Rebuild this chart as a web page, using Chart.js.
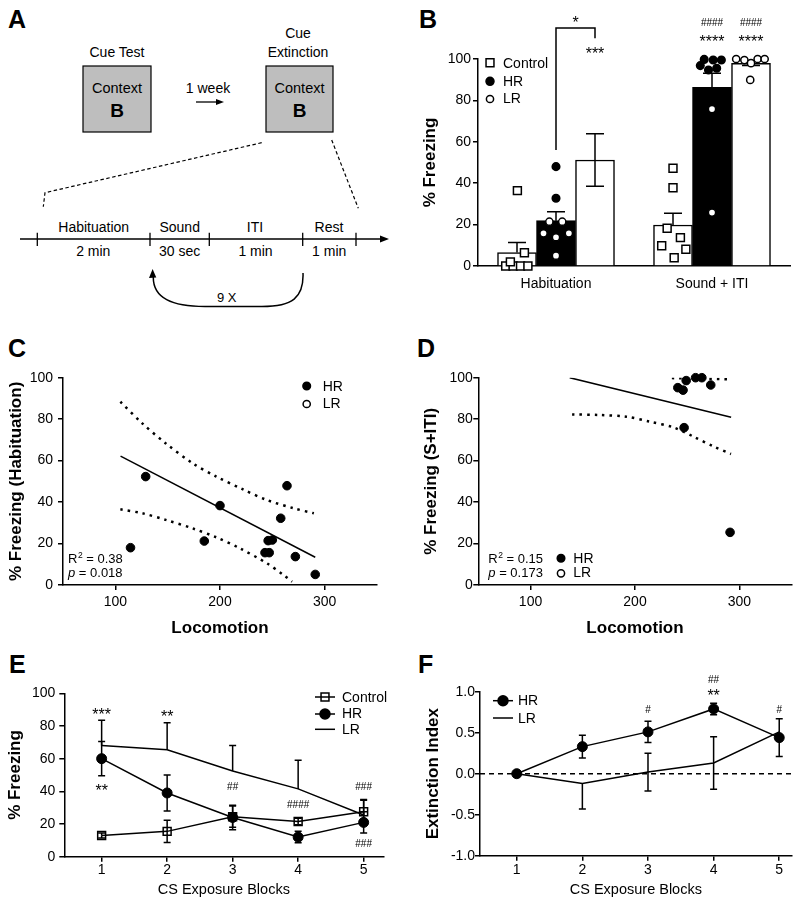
<!DOCTYPE html>
<html>
<head>
<meta charset="utf-8">
<script src="https://cdn.jsdelivr.net/npm/chart.js@4.4.1/dist/chart.umd.min.js"></script>
<style>
  html, body { margin: 0; padding: 0; background: #fff; }
  #page { position: relative; width: 800px; height: 906px; overflow: hidden; background: #fff; }
  #page canvas, #page svg { position: absolute; }
</style>
</head>
<body>
<div id="page">
<svg width="800" height="906" style="left:0;top:0" font-family="'Liberation Sans', Arial, sans-serif" font-size="14">
  <!-- panel letters -->
  <g font-size="25" font-weight="bold">
    <text x="8" y="28.3">A</text>
    <text x="419" y="28.3">B</text>
    <text x="8" y="356.7">C</text>
    <text x="417" y="356.7">D</text>
    <text x="9" y="673.3">E</text>
    <text x="418" y="673.3">F</text>
  </g>
  <!-- panel A schematic -->
  <g text-anchor="middle">
    <text x="117" y="56.7">Cue Test</text>
    <rect x="83" y="66" width="68" height="66" fill="#bebebe" stroke="#000" stroke-width="1.2"/>
    <text x="117" y="92.5" font-size="14.5">Context</text>
    <text x="117" y="116.7" font-size="19" font-weight="bold">B</text>
    <text x="208" y="93">1 week</text>
    <text x="298" y="38.3">Cue</text>
    <text x="298" y="56.7">Extinction</text>
    <rect x="266" y="66" width="67" height="66" fill="#bebebe" stroke="#000" stroke-width="1.2"/>
    <text x="299.5" y="92.5" font-size="14.5">Context</text>
    <text x="299.5" y="116.7" font-size="19" font-weight="bold">B</text>
    <text x="93.7" y="231.7">Habituation</text>
    <text x="179.7" y="231.7">Sound</text>
    <text x="255" y="231.7">ITI</text>
    <text x="329" y="231.7">Rest</text>
    <text x="93.3" y="256">2 min</text>
    <text x="179.7" y="256">30 sec</text>
    <text x="255.5" y="256">1 min</text>
    <text x="329.2" y="256">1 min</text>
    <text x="226.7" y="302.3" font-size="13">9 X</text>
  </g>
  <line x1="196" y1="102" x2="217" y2="102" stroke="#000" stroke-width="1.3"/>
  <polygon points="224,102 216,99 216,105" fill="#000"/>
  <polyline points="261.7,142.7 45,192.7 43.3,206.7" fill="none" stroke="#000" stroke-width="1.2" stroke-dasharray="3.5,2.5"/>
  <line x1="331.7" y1="140" x2="358.3" y2="208.3" stroke="#000" stroke-width="1.2" stroke-dasharray="3.5,2.5"/>
  <line x1="20" y1="239" x2="382" y2="239" stroke="#000" stroke-width="1.3"/>
  <polygon points="389,239 380,235.5 380,242.5" fill="#000"/>
  <g stroke="#000" stroke-width="1.3">
    <line x1="37.3" y1="232.7" x2="37.3" y2="246"/>
    <line x1="150" y1="232.7" x2="150" y2="246"/>
    <line x1="209.3" y1="232.7" x2="209.3" y2="246"/>
    <line x1="302.7" y1="232.7" x2="302.7" y2="246"/>
    <line x1="356" y1="232.7" x2="356" y2="246"/>
  </g>
  <path d="M303 273 C304 298 292 306.5 262 306.5 L205 306.5 C172 306.5 153 298 153.3 277" fill="none" stroke="#000" stroke-width="1.5"/>
  <polygon points="152.6,269 149,278 156.3,277.6" fill="#000"/>
</svg>
<canvas id="cB" width="400" height="300" style="left:400px;top:0"></canvas>
<canvas id="cC" width="400" height="340" style="left:0;top:300px"></canvas>
<canvas id="cD" width="400" height="340" style="left:400px;top:300px"></canvas>
<canvas id="cE" width="400" height="266" style="left:0;top:640px"></canvas>
<canvas id="cF" width="400" height="266" style="left:400px;top:640px"></canvas>
</div>
<script>
// ---------- panel B: bars + individual animals ----------
const groupsB = ['Habituation', 'Sound + ITI'];
const meanControlB = [6.5, 19.8];
const meanHRB = [21.9, 86.3];
const meanLRB = [51.2, 97.9];
const semControlB = [4.8, 5.7];
const semHRB = [4.3, 6.8];
const semLRB = [12.7, 1.0];
const yTicksB = [0, 20, 40, 60, 80, 100];

const ctrlHabVals = [0, 0, 0, 0, 2, 6.4, 36.4];
const ctrlHabJit = [-0.29, -0.1, 0.09, 0.28, -0.17, 0.19, 0.01];
const hrHabFilledVals = [48, 32.7];
const hrHabFilledJit = [0, 0];
const hrHabOpenVals = [21.4, 21.4, 15.8, 15.8, 13.9, 5];
const hrHabOpenJit = [-0.17, 0.16, -0.32, 0.33, 0, 0];
const ctrlSndVals = [47.2, 37.8, 18.2, 13.7, 9.8, 8.1, 4];
const ctrlSndJit = [0, 0, -0.15, 0.19, -0.29, 0.33, 0.03];
const hrSndFilledVals = [99.8, 99.5, 99.5, 96.8, 94.7, 95.5];
const hrSndFilledJit = [-0.2, 0.03, 0.24, -0.3, -0.09, 0.12];
const hrSndOpenVals = [75.8, 25.8];
const hrSndOpenJit = [0, 0];
const lrSndVals = [100, 99.5, 100, 100, 98, 89.9];
const lrSndJit = [-0.38, -0.17, 0.17, 0.35, 0, -0.02];

// ---------- panel C: locomotion vs freezing (habituation) ----------
const locoC = [114.5, 129, 185, 200, 258, 264, 246, 250, 243, 247, 272, 291];
const freezeC = [18, 52.3, 21.2, 38.3, 32.2, 47.9, 21.4, 21.7, 15.6, 15.6, 13.7, 5.1];
const fitXC = [105, 291];
const fitYC = [62.2, 13.4];
const upperXC = [104.8, 125.7, 148.2, 174, 196.5, 222, 244.7, 270.4, 289.7];
const upperYC = [88.4, 78, 68.3, 58.7, 52.3, 46.1, 41, 37, 34.6];
const lowerXC = [104.8, 125.7, 148.2, 173.9, 196.5, 219, 244.7, 260.8, 268.8];
const lowerYC = [36.5, 34.6, 31.4, 27.3, 23, 17.7, 10.5, 4.8, 1.6];

// ---------- panel D: locomotion vs freezing (S+ITI) ----------
const locoD = [241, 246, 249, 258, 264, 272.5, 247, 291];
const freezeD = [95.2, 94, 98.6, 100, 100, 96.5, 75.9, 25.4];
const fitXD = [137.5, 292];
const fitYD = [100, 80.9];
const upperXD = [235.3, 262, 292];
const upperYD = [99.8, 99.6, 99.2];
const lowerXD = [139.8, 165.7, 191.6, 214.2, 236.9, 256.3, 275.7, 291.9];
const lowerYD = [82.3, 82, 81.2, 78.8, 76, 71.5, 66.7, 63.2];

const locoTicks = [100, 200, 300];
const freezeTicks = [0, 20, 40, 60, 80, 100];

// ---------- panel E: % freezing across CS blocks ----------
const blocks = [1, 2, 3, 4, 5];
const ctrlE = [13, 15.5, 24.5, 21.5, 27.5];
const ctrlErrE = [1.5, 6.8, 6.5, 2, 7.5];
const hrE = [60, 39, 24, 12, 21];
const hrErrE = [10.5, 11, 7.5, 3.5, 6.5];
const lrE = [68, 65.5, 52.5, 41.5, 25.5];
const lrErrUpE = [15.5, 16.5, 15.5, 17.5, 9];

// ---------- panel F: extinction index ----------
const hrF = [0, 0.33, 0.51, 0.79, 0.44];
const hrErrF = [0, 0.14, 0.13, 0.07, 0.23];
const lrF = [0, -0.12, 0.02, 0.13, 0.51];
const lrErrUpF = [0, 0, 0.23, 0.32, 0];
const lrErrDnF = [0, 0.31, 0.23, 0.32, 0];
const yTicksF = [-1, -0.5, 0, 0.5, 1];

const FONT = '"Liberation Sans", Arial, Helvetica, sans-serif';
Chart.defaults.font.family = FONT;
Chart.defaults.color = '#000';

const CAT_PCT = 0.75;
const BW = CAT_PCT / 3;

function xy(xs, ys) { return xs.map((x, i) => ({ x: x, y: ys[i] })); }
function jitterPts(vals, jit, group, bar) {
  return vals.map((v, i) => ({ x: group + (bar - 1) * BW + jit[i] * BW, y: v }));
}
function fixTicks(list) { return s => { s.ticks = list.map(v => ({ value: v })); }; }
function tickGrid() {
  return { display: true, drawOnChartArea: false, drawTicks: true, tickLength: 5, color: '#000', lineWidth: 1.5 };
}
const axisBorder = { display: true, color: '#000', width: 1.5 };

function yAxis(min, max, list, width, title, titlePad, tickPad, fmt) {
  return {
    type: 'linear', position: 'left', min: min, max: max, bounds: 'data',
    afterBuildTicks: fixTicks(list),
    afterFit: s => { s.width = width; },
    grid: tickGrid(), border: axisBorder,
    ticks: { font: { size: 14 }, color: '#000', padding: tickPad, callback: fmt || (v => v) },
    title: { display: true, text: title, color: '#000', font: { size: 17, weight: 'bold' }, padding: { top: titlePad, bottom: 0 } }
  };
}
function xAxis(min, max, list, height, title, titleFont, titlePadB, tickPad) {
  return {
    type: 'linear', position: 'bottom', min: min, max: max, bounds: 'data',
    afterBuildTicks: fixTicks(list),
    afterFit: s => { s.height = height; },
    grid: tickGrid(), border: axisBorder,
    ticks: { font: { size: 14 }, color: '#000', padding: tickPad, maxRotation: 0 },
    title: { display: true, text: title, color: '#000', font: titleFont, padding: { top: 0, bottom: titlePadB } }
  };
}
function hiddenAxis(min, max) {
  return {
    type: 'linear', display: false, position: 'bottom', offset: false, grid: { offset: false },
    min: min, max: max, bounds: 'data', afterBuildTicks: fixTicks([min, max])
  };
}
function baseOpts(top, right) {
  return {
    animation: false, responsive: false, events: [],
    layout: { padding: { top: top, right: right, bottom: 0, left: 0 } },
    plugins: { legend: { display: false }, tooltip: { enabled: false } }
  };
}

// marker drawing for legends
function marker(ctx, style, x, y, r, fill) {
  ctx.save();
  ctx.lineWidth = 1.5;
  ctx.strokeStyle = '#000';
  ctx.fillStyle = fill;
  ctx.beginPath();
  if (style === 'rect') {
    const h = r * Math.SQRT1_2;
    ctx.rect(x - h, y - h, 2 * h, 2 * h);
  } else {
    ctx.arc(x, y, r, 0, Math.PI * 2);
  }
  ctx.fill();
  ctx.stroke();
  ctx.restore();
}
function label(ctx, txt, x, y, size, align) {
  ctx.font = size + 'px ' + FONT;
  ctx.fillStyle = '#000';
  ctx.textAlign = align || 'left';
  ctx.textBaseline = 'alphabetic';
  ctx.fillText(txt, x, y);
}
function mark(ctx, txt, x, yc) {
  const star = txt.indexOf('*') >= 0;
  const size = star ? 16 : 10;
  ctx.font = size + 'px ' + FONT;
  ctx.fillStyle = '#000';
  ctx.textAlign = 'center';
  ctx.textBaseline = 'alphabetic';
  ctx.fillText(txt, x, yc + (star ? 0.58 : 0.36) * size);
}
function stats(ctx, r2, p, x, y1, y2) {
  ctx.fillStyle = '#000';
  ctx.textAlign = 'left';
  ctx.textBaseline = 'alphabetic';
  ctx.font = '13px ' + FONT;
  ctx.fillText('R', x, y1);
  let w = ctx.measureText('R').width;
  ctx.font = '8.5px ' + FONT;
  ctx.fillText('2', x + w + 0.5, y1 - 5);
  w += ctx.measureText('2').width + 0.5;
  ctx.font = '13px ' + FONT;
  ctx.fillText(' = ' + r2, x + w, y1);
  ctx.font = 'italic 13px ' + FONT;
  ctx.fillText('p', x, y2);
  const wp = ctx.measureText('p').width;
  ctx.font = '13px ' + FONT;
  ctx.fillText(' = ' + p, x + wp, y2);
}
function errLine(ctx, x, yFrom, yTo, cap) {
  ctx.beginPath();
  ctx.moveTo(x, yFrom);
  ctx.lineTo(x, yTo);
  ctx.moveTo(x - cap, yTo);
  ctx.lineTo(x + cap, yTo);
  ctx.stroke();
}

// ---------- B ----------
function ptSet(data, style, r, fill) {
  return {
    type: 'scatter', xAxisID: 'xs', yAxisID: 'y', order: -1, clip: false,
    data: data, pointStyle: style, pointRadius: r,
    pointBackgroundColor: fill, pointBorderColor: '#000', pointBorderWidth: 1.5
  };
}
function barSet(lbl, vals, bar, fill) {
  return {
    label: lbl, xAxisID: 'xb', yAxisID: 'y', grouped: false, order: 0,
    data: vals.map((v, g) => ({ x: g + (bar - 1) * BW, y: v })),
    backgroundColor: fill, borderColor: '#000', borderWidth: 1.5,
    categoryPercentage: 1, barPercentage: 1
  };
}
const panelBPlugin = {
  id: 'panelB',
  afterDatasetDraw(chart, args) {
    if (args.index !== 0) return;
    const ctx = chart.ctx, y = chart.scales.y, xb = chart.scales.xb;
    const means = [meanControlB, meanHRB, meanLRB];
    const sems = [semControlB, semHRB, semLRB];
    ctx.save();
    ctx.strokeStyle = '#000';
    ctx.lineWidth = 1.5;
    for (let g = 0; g < groupsB.length; g++) {
      for (let b = 0; b < 3; b++) {
        const x = xb.getPixelForValue(g + (b - 1) * BW);
        const m = means[b][g], s = sems[b][g];
        errLine(ctx, x, y.getPixelForValue(m), y.getPixelForValue(m + s), 9);
        if (b === 2) errLine(ctx, x, y.getPixelForValue(m), y.getPixelForValue(m - s), 9);
      }
    }
    ctx.restore();
  },
  afterDraw(chart) {
    const ctx = chart.ctx, y = chart.scales.y, xb = chart.scales.xb;
    // legend
    marker(ctx, 'rect', 90, 62.7, 5.6, '#fff');
    marker(ctx, 'circle', 90, 81.3, 4, '#000');
    marker(ctx, 'circle', 90, 99, 3.6, '#fff');
    label(ctx, 'Control', 103, 67.7, 14);
    label(ctx, 'HR', 103, 86, 14);
    label(ctx, 'LR', 103, 103.3, 14);
    // bracket HR vs LR habituation
    const xH = xb.getPixelForValue(0), xL = xb.getPixelForValue(BW);
    ctx.save();
    ctx.strokeStyle = '#000';
    ctx.lineWidth = 1.5;
    ctx.beginPath();
    ctx.moveTo(xH, y.getPixelForValue(56));
    ctx.lineTo(xH, y.getPixelForValue(115));
    ctx.lineTo(xL, y.getPixelForValue(115));
    ctx.lineTo(xL, y.getPixelForValue(110));
    ctx.stroke();
    ctx.restore();
    mark(ctx, '*', (xH + xL) / 2, y.getPixelForValue(119.7));
    mark(ctx, '***', xL, y.getPixelForValue(104.3));
    [1, 1 + BW].forEach(v => {
      const x = xb.getPixelForValue(v);
      mark(ctx, '####', x, y.getPixelForValue(117.9));
      mark(ctx, '****', x, y.getPixelForValue(110.1));
    });
  }
};
const optsB = baseOpts(59, 10);
optsB.scales = {
  x: {
    type: 'category', offset: true, position: 'bottom',
    afterFit: s => { s.height = 34; },
    grid: { display: false, drawTicks: false }, border: axisBorder,
    ticks: { font: { size: 14 }, color: '#000', padding: 9.6 }
  },
  xb: hiddenAxis(-0.5, 1.5),
  xs: hiddenAxis(-0.5, 1.5),
  y: yAxis(0, 100, yTicksB, 78, '% Freezing', 20.5, 2)
};
new Chart(document.getElementById('cB'), {
  type: 'bar',
  data: {
    labels: groupsB,
    datasets: [
      barSet('Control', meanControlB, 0, '#fff'),
      barSet('HR', meanHRB, 1, '#000'),
      barSet('LR', meanLRB, 2, '#fff'),
      ptSet(jitterPts(ctrlHabVals, ctrlHabJit, 0, 0).concat(jitterPts(ctrlSndVals, ctrlSndJit, 1, 0)), 'rect', 5.6, '#fff'),
      ptSet(jitterPts(hrHabFilledVals, hrHabFilledJit, 0, 1).concat(jitterPts(hrSndFilledVals, hrSndFilledJit, 1, 1)), 'circle', 3.8, '#000'),
      ptSet(jitterPts(hrHabOpenVals, hrHabOpenJit, 0, 1).concat(jitterPts(hrSndOpenVals, hrSndOpenJit, 1, 1), jitterPts(lrSndVals, lrSndJit, 1, 2)), 'circle', 3.6, '#fff')
    ]
  },
  options: optsB,
  plugins: [panelBPlugin]
});

// ---------- C & D ----------
function scatterSets(xs, ys, fx, fy, ux, uy, lx, ly) {
  const band = (d) => ({
    data: d, showLine: true, pointRadius: 0, borderColor: '#000', borderWidth: 2.5,
    borderDash: [2.5, 5], tension: 0.3, borderCapStyle: 'butt'
  });
  return [
    { data: xy(xs, ys), pointRadius: 4.3, pointBackgroundColor: '#000', pointBorderColor: '#000', pointBorderWidth: 1, clip: false },
    { data: xy(fx, fy), showLine: true, pointRadius: 0, borderColor: '#000', borderWidth: 1.5 },
    band(xy(ux, uy)),
    band(xy(lx, ly))
  ];
}
const optsC = baseOpts(77.7, 23);
optsC.scales = {
  x: xAxis(50, 350, locoTicks, 55, 'Locomotion', { size: 17, weight: 'bold' }, 1.8, 3.3),
  y: yAxis(0, 100, freezeTicks, 63, '% Freezing (Habituation)', 6.5, 5)
};
new Chart(document.getElementById('cC'), {
  type: 'scatter',
  data: { datasets: scatterSets(locoC, freezeC, fitXC, fitYC, upperXC, upperYC, lowerXC, lowerYC) },
  options: optsC,
  plugins: [{
    id: 'panelC',
    afterDraw(chart) {
      const ctx = chart.ctx;
      marker(ctx, 'circle', 306.7, 86, 3.8, '#000');
      marker(ctx, 'circle', 306.7, 104, 3.6, '#fff');
      label(ctx, 'HR', 322.7, 90.7, 14);
      label(ctx, 'LR', 322.7, 108.3, 14);
      stats(ctx, '0.38', '0.018', 68, 263.3, 277.3);
    }
  }]
});

const optsD = baseOpts(77.7, 8.3);
optsD.scales = {
  x: xAxis(50, 350, locoTicks, 55, 'Locomotion', { size: 17, weight: 'bold' }, 1.8, 3.3),
  y: yAxis(0, 100, freezeTicks, 78.3, '% Freezing (S+ITI)', 21.5, 0.5)
};
new Chart(document.getElementById('cD'), {
  type: 'scatter',
  data: { datasets: scatterSets(locoD, freezeD, fitXD, fitYD, upperXD, upperYD, lowerXD, lowerYD) },
  options: optsD,
  plugins: [{
    id: 'panelD',
    afterDraw(chart) {
      const ctx = chart.ctx;
      stats(ctx, '0.15', '0.173', 88.3, 263.3, 277.3);
      marker(ctx, 'circle', 161, 258.3, 3.8, '#000');
      marker(ctx, 'circle', 161, 273.3, 3.6, '#fff');
      label(ctx, 'HR', 173.3, 263.3, 14);
      label(ctx, 'LR', 173.3, 277.3, 14);
    }
  }]
});

// ---------- E ----------
const optsE = baseOpts(53.3, 16.7);
optsE.scales = {
  x: xAxis(0.43, 5.3, blocks, 49.3, 'CS Exposure Blocks', { size: 14.5 }, 7.6, 0),
  y: yAxis(0, 100, freezeTicks, 64.3, '% Freezing', 4.8, 4)
};
new Chart(document.getElementById('cE'), {
  type: 'scatter',
  data: {
    datasets: [
      { data: xy(blocks, hrE), showLine: true, borderColor: '#000', borderWidth: 1.5, pointStyle: 'circle',
        pointRadius: 5, pointBackgroundColor: '#000', pointBorderColor: '#000', pointBorderWidth: 1, clip: false },
      { data: xy(blocks, ctrlE), showLine: true, borderColor: '#000', borderWidth: 1.5, pointStyle: 'rect',
        pointRadius: 5.6, pointBackgroundColor: 'rgba(0,0,0,0)', pointBorderColor: '#000', pointBorderWidth: 1.5, clip: false },
      { data: xy(blocks, lrE), showLine: true, borderColor: '#000', borderWidth: 1.5, pointRadius: 0 }
    ]
  },
  options: optsE,
  plugins: [{
    id: 'panelE',
    beforeDatasetsDraw(chart) {
      const ctx = chart.ctx, x = chart.scales.x, y = chart.scales.y;
      ctx.save();
      ctx.strokeStyle = '#000';
      ctx.lineWidth = 1.5;
      blocks.forEach((b, i) => {
        const px = x.getPixelForValue(b);
        errLine(ctx, px, y.getPixelForValue(lrE[i]), y.getPixelForValue(lrE[i] + lrErrUpE[i]), 3.5);
        [[ctrlE, ctrlErrE], [hrE, hrErrE]].forEach(([m, e]) => {
          errLine(ctx, px, y.getPixelForValue(m[i]), y.getPixelForValue(m[i] + e[i]), 3.5);
          errLine(ctx, px, y.getPixelForValue(m[i]), y.getPixelForValue(m[i] - e[i]), 3.5);
        });
      });
      ctx.restore();
    },
    afterDraw(chart) {
      const ctx = chart.ctx, x = chart.scales.x, y = chart.scales.y;
      ctx.save();
      ctx.strokeStyle = '#000';
      ctx.lineWidth = 1.5;
      [57, 74, 89.3].forEach(v => { ctx.beginPath(); ctx.moveTo(315, v); ctx.lineTo(335, v); ctx.stroke(); });
      ctx.restore();
      marker(ctx, 'rect', 325, 57, 5.6, 'rgba(0,0,0,0)');
      marker(ctx, 'circle', 325, 74, 5, '#000');
      label(ctx, 'Control', 342, 61.7, 14);
      label(ctx, 'HR', 342, 78.3, 14);
      label(ctx, 'LR', 342, 94, 14);
      mark(ctx, '***', x.getPixelForValue(1), y.getPixelForValue(89.2));
      mark(ctx, '**', x.getPixelForValue(2), y.getPixelForValue(88));
      mark(ctx, '**', x.getPixelForValue(1), y.getPixelForValue(42.7));
      mark(ctx, '##', x.getPixelForValue(3), y.getPixelForValue(42.9));
      mark(ctx, '####', x.getPixelForValue(4), y.getPixelForValue(31.8));
      mark(ctx, '###', x.getPixelForValue(5), y.getPixelForValue(42.9));
      mark(ctx, '###', x.getPixelForValue(5), y.getPixelForValue(8.2));
    }
  }]
});

// ---------- F ----------
const optsF = baseOpts(51.7, 8.3);
optsF.scales = {
  x: xAxis(0.44, 5.19, blocks, 50.3, 'CS Exposure Blocks', { size: 14.5 }, 7.6, 1),
  y: yAxis(-1, 1, yTicksF, 80, 'Extinction Index', 22.8, 0, v => v.toFixed(1))
};
new Chart(document.getElementById('cF'), {
  type: 'scatter',
  data: {
    datasets: [
      { data: xy(blocks, hrF), showLine: true, borderColor: '#000', borderWidth: 1.5, pointStyle: 'circle',
        pointRadius: 5, pointBackgroundColor: '#000', pointBorderColor: '#000', pointBorderWidth: 1, clip: false },
      { data: xy(blocks, lrF), showLine: true, borderColor: '#000', borderWidth: 1.5, pointRadius: 0 }
    ]
  },
  options: optsF,
  plugins: [{
    id: 'panelF',
    beforeDatasetsDraw(chart) {
      const ctx = chart.ctx, x = chart.scales.x, y = chart.scales.y, a = chart.chartArea;
      ctx.save();
      ctx.strokeStyle = '#000';
      ctx.lineWidth = 1.5;
      ctx.setLineDash([5, 4]);
      ctx.beginPath();
      ctx.moveTo(a.left, y.getPixelForValue(0));
      ctx.lineTo(a.right, y.getPixelForValue(0));
      ctx.stroke();
      ctx.setLineDash([]);
      blocks.forEach((b, i) => {
        const px = x.getPixelForValue(b);
        if (hrErrF[i] > 0) {
          errLine(ctx, px, y.getPixelForValue(hrF[i]), y.getPixelForValue(hrF[i] + hrErrF[i]), 3.5);
          errLine(ctx, px, y.getPixelForValue(hrF[i]), y.getPixelForValue(hrF[i] - hrErrF[i]), 3.5);
        }
        if (lrErrUpF[i] > 0) errLine(ctx, px, y.getPixelForValue(lrF[i]), y.getPixelForValue(lrF[i] + lrErrUpF[i]), 3.5);
        if (lrErrDnF[i] > 0) errLine(ctx, px, y.getPixelForValue(lrF[i]), y.getPixelForValue(lrF[i] - lrErrDnF[i]), 3.5);
      });
      ctx.restore();
    },
    afterDraw(chart) {
      const ctx = chart.ctx, x = chart.scales.x, y = chart.scales.y;
      ctx.save();
      ctx.strokeStyle = '#000';
      ctx.lineWidth = 1.5;
      [60.7, 78].forEach(v => { ctx.beginPath(); ctx.moveTo(93, v); ctx.lineTo(113, v); ctx.stroke(); });
      ctx.restore();
      marker(ctx, 'circle', 103, 60.7, 5, '#000');
      label(ctx, 'HR', 118, 65, 14);
      label(ctx, 'LR', 118, 82.7, 14);
      mark(ctx, '#', x.getPixelForValue(3), y.getPixelForValue(0.79));
      mark(ctx, '##', x.getPixelForValue(4), y.getPixelForValue(1.155));
      mark(ctx, '**', x.getPixelForValue(4), y.getPixelForValue(0.996));
      mark(ctx, '#', x.getPixelForValue(5), y.getPixelForValue(0.79));
    }
  }]
});
</script>
</body>
</html>
